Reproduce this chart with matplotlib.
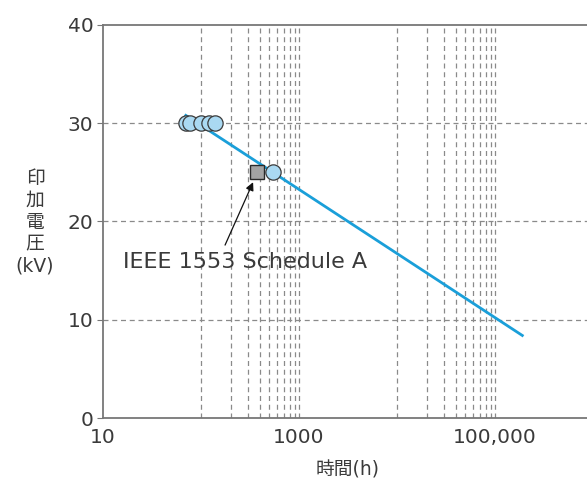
import matplotlib
matplotlib.use('Agg')
import matplotlib.pyplot as plt

plt.rcParams['font.family'] = ['DejaVu Sans', 'Noto Sans CJK JP']

# data
circle_hours = [70, 78, 100, 120, 140, 540]
circle_kv = [30, 30, 30, 30, 30, 25]
square_hours = [370]
square_kv = [25]
fit_hours = [70, 190000]
fit_kv = [30.8, 8.4]

x_ticks = [10, 1000, 100000]
x_ticklabels = ['10', '1000', '100,000']
y_ticks = [0, 10, 20, 30, 40]
v_grid = [m * 10**e for e in (2, 4) for m in range(1, 11)]
h_grid = [10, 20, 30]

dark = '#3a3a3a'
grid_grey = '#8a8a8a'

fig = plt.figure(figsize=(5.87, 4.79), dpi=100)
ax = fig.add_axes([103/587, 61/479, 490/587, 393/479])

ax.set_xscale('log')
ax.set_xlim(10, 1e6)
ax.set_ylim(0, 40)

# dashed grid
for xv in v_grid:
    ax.axvline(xv, color=grid_grey, linestyle=(0, (4, 3)), linewidth=0.9, zorder=1)
for yv in h_grid:
    ax.axhline(yv, color=grid_grey, linestyle=(0, (4, 3)), linewidth=0.9, zorder=1)

ax.plot(fit_hours, fit_kv, color='#1a9fd9', linewidth=2, zorder=2)
ax.plot(circle_hours, circle_kv, linestyle='none', marker='o', markersize=11,
        markerfacecolor='#aad9f2', markeredgecolor='#3a3a3a', markeredgewidth=0.9, zorder=3)
ax.plot(square_hours, square_kv, linestyle='none', marker='s', markersize=10,
        markerfacecolor='#a3a3a3', markeredgecolor='#2a2a2a', markeredgewidth=1.0, zorder=4)

ax.text(16, 15.9, 'IEEE 1553 Schedule A', fontsize=16, color=dark,
        ha='left', va='center')
ax.annotate('', xy=(340, 24.0), xytext=(176, 17.6),
            arrowprops=dict(arrowstyle='-|>', color='#111111', lw=0.9,
                            mutation_scale=12, shrinkA=0, shrinkB=0))

ax.set_xticks(x_ticks)
ax.set_xticklabels(x_ticklabels)
ax.xaxis.set_minor_locator(matplotlib.ticker.NullLocator())
ax.set_yticks(y_ticks)
ax.tick_params(axis='x', length=0, labelsize=14.5, labelcolor=dark, pad=7)
ax.tick_params(axis='y', length=4, width=0.8, color='#777777', labelsize=14.5,
               labelcolor=dark, pad=3)

for s in ['top', 'left', 'bottom']:
    ax.spines[s].set_color('#777777')
    ax.spines[s].set_linewidth(1.3)
ax.spines['right'].set_visible(False)

ax.set_xlabel('時間(h)', fontsize=13.5, color=dark, labelpad=10)
fig.text(35/587, 1 - 222/479, '印\n加\n電\n圧\n(kV)', fontsize=13.5, color=dark,
         ha='center', va='center', linespacing=1.2)

fig.savefig('out.png', dpi=100)
